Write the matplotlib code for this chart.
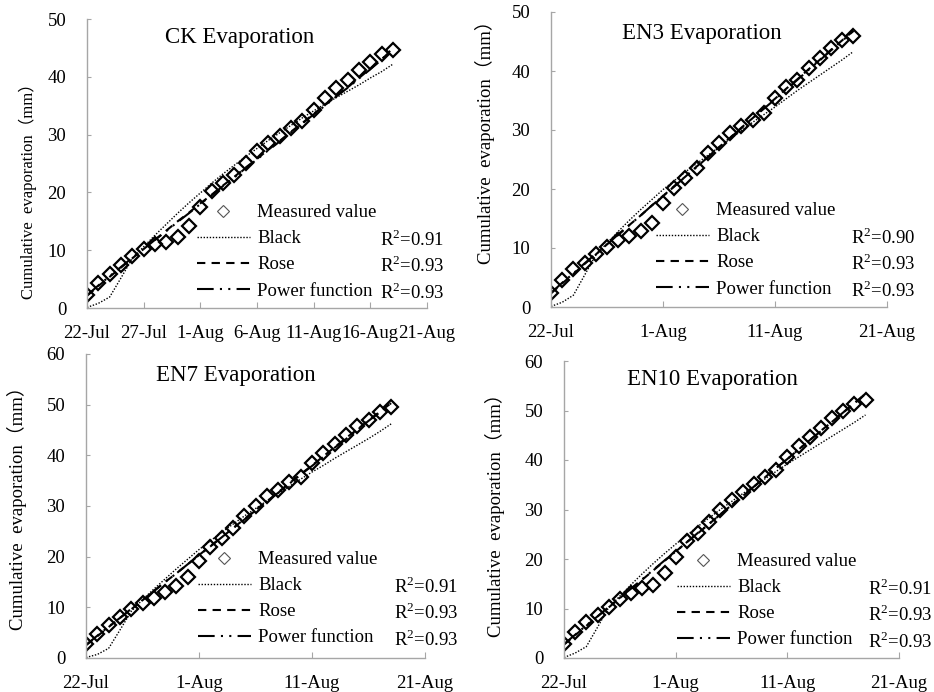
import numpy as np
import matplotlib
matplotlib.use("Agg")
import matplotlib.pyplot as plt
from matplotlib.lines import Line2D

plt.rcParams['font.family'] = ['Liberation Serif', 'Noto Sans CJK SC']
plt.rcParams['mathtext.fontset'] = 'custom'
plt.rcParams['mathtext.rm'] = 'Liberation Serif'

W, H = 934, 692

# days after 22-Jul
days = list(range(28))

ck_meas = [2.3, 4.3, 5.9, 7.4, 9.0, 10.2, 11.1, 11.5, 12.3, 14.2, 17.5, 20.2, 21.6, 23.0,
           25.1, 27.1, 28.5, 29.8, 31.2, 32.3, 34.3, 36.3, 38.0, 39.5, 41.1, 42.5, 43.9, 44.6]
ck_black = [0.1, 0.8, 1.9, 5.2, 8.6, 10.6, 12.6, 14.5, 16.4, 18.2, 19.9, 21.6, 23.2, 24.7,
            26.2, 27.6, 29.0, 30.3, 31.6, 32.9, 34.1, 35.3, 36.4, 37.5, 38.6, 39.8, 40.9, 42.2]
ck_rose = [2.1, 3.8, 5.4, 7.0, 8.6, 10.2, 11.8, 13.4, 15.0, 16.5, 18.1, 19.6, 21.2, 22.7,
           24.3, 25.8, 27.4, 28.9, 30.5, 32.0, 33.6, 35.1, 36.7, 38.2, 39.8, 41.4, 43.0, 44.9]
ck_power = [2.2, 3.9, 5.5, 7.1, 8.7, 10.2, 11.8, 13.3, 14.9, 16.4, 18.0, 19.5, 21.1, 22.6,
            24.2, 25.7, 27.3, 28.8, 30.4, 31.9, 33.5, 35.0, 36.6, 38.1, 39.7, 41.3, 43.0, 45.0]

en3_meas = [2.4, 4.6, 6.5, 7.5, 9.0, 10.2, 11.3, 12.1, 12.9, 14.3, 17.6, 20.1, 21.8, 23.5,
            26.1, 27.8, 29.5, 30.7, 31.7, 32.9, 35.4, 37.3, 38.5, 40.5, 42.2, 43.9, 45.2, 46.0]
en3_black = [0.1, 0.8, 2.0, 5.4, 8.8, 10.8, 12.8, 14.7, 16.5, 18.2, 19.9, 21.4, 22.9, 24.3,
             25.7, 27.1, 28.5, 29.9, 31.3, 32.6, 33.9, 35.3, 36.7, 38.0, 39.3, 40.6, 41.9, 43.3]
en3_rose = [2.3, 4.0, 5.6, 7.3, 8.9, 10.6, 12.2, 13.9, 15.5, 17.2, 18.8, 20.5, 22.1, 23.8,
            25.4, 27.1, 28.7, 30.4, 32.0, 33.7, 35.3, 37.0, 38.6, 40.3, 41.9, 43.6, 45.2, 46.8]
en3_power = [2.4, 4.1, 5.7, 7.4, 9.0, 10.6, 12.3, 13.9, 15.5, 17.2, 18.8, 20.4, 22.1, 23.7,
             25.4, 27.0, 28.7, 30.3, 32.0, 33.6, 35.2, 36.9, 38.5, 40.2, 41.8, 43.5, 45.1, 46.8]

en7_meas = [2.7, 4.8, 6.6, 8.1, 9.6, 10.9, 11.9, 13.0, 14.2, 15.9, 19.2, 21.9, 23.6, 25.6,
            28.1, 30.0, 32.0, 33.1, 34.8, 35.8, 38.5, 40.5, 42.2, 44.0, 45.8, 47.0, 48.6, 49.6]
en7_black = [0.1, 0.7, 1.9, 5.5, 9.2, 11.5, 13.6, 15.6, 17.6, 19.5, 21.4, 23.1, 24.8, 26.4,
             28.0, 29.5, 31.0, 32.5, 33.9, 35.3, 36.7, 38.0, 39.4, 40.7, 42.0, 43.3, 44.7, 46.2]
en7_rose = [2.5, 4.3, 6.1, 7.9, 9.6, 11.4, 13.2, 15.0, 16.7, 18.5, 20.3, 22.1, 23.8, 25.6,
            27.4, 29.2, 30.9, 32.7, 34.5, 36.3, 38.0, 39.8, 41.6, 43.4, 45.1, 46.9, 48.6, 50.3]
en7_power = [2.6, 4.4, 6.2, 7.9, 9.7, 11.4, 13.2, 15.0, 16.7, 18.5, 20.3, 22.0, 23.8, 25.6,
             27.3, 29.1, 30.9, 32.6, 34.4, 36.2, 37.9, 39.7, 41.5, 43.2, 45.0, 46.8, 48.5, 50.3]

en10_meas = [2.9, 5.2, 7.2, 8.7, 10.4, 11.9, 13.1, 14.1, 14.8, 17.1, 20.5, 23.7, 25.3, 27.4,
             29.9, 31.9, 33.6, 35.1, 36.5, 38.0, 40.7, 42.8, 44.7, 46.4, 48.4, 49.9, 51.4, 52.2]
en10_black = [0.1, 1.0, 2.3, 6.2, 10.2, 12.5, 14.8, 17.0, 19.1, 21.1, 23.0, 24.8, 26.6, 28.3,
              30.0, 31.6, 33.2, 34.7, 36.2, 37.7, 39.2, 40.6, 42.0, 43.4, 44.8, 46.2, 47.6, 49.1]
en10_rose = [2.7, 4.6, 6.5, 8.4, 10.2, 12.1, 14.0, 15.8, 17.7, 19.6, 21.5, 23.4, 25.2, 27.1,
             29.0, 30.9, 32.7, 34.6, 36.5, 38.4, 40.2, 42.1, 44.0, 45.9, 47.7, 49.6, 51.5, 53.4]
en10_power = [2.8, 4.7, 6.6, 8.4, 10.3, 12.2, 14.0, 15.9, 17.8, 19.7, 21.5, 23.4, 25.3, 27.1,
              29.0, 30.9, 32.7, 34.6, 36.5, 38.4, 40.2, 42.1, 44.0, 45.8, 47.7, 49.6, 51.4, 53.4]

titles = ["CK Evaporation", "EN3 Evaporation", "EN7 Evaporation", "EN10 Evaporation"]
r2_labels = [["R$^{2}$=0.91", "R$^{2}$=0.93", "R$^{2}$=0.93"],
             ["R$^{2}$=0.90", "R$^{2}$=0.93", "R$^{2}$=0.93"],
             ["R$^{2}$=0.91", "R$^{2}$=0.93", "R$^{2}$=0.93"],
             ["R$^{2}$=0.91", "R$^{2}$=0.93", "R$^{2}$=0.93"]]
tick_days_5 = [0, 5, 10, 15, 20, 25, 30]
tick_labels_5 = ["22-Jul", "27-Jul", "1-Aug", "6-Aug", "11-Aug", "16-Aug", "21-Aug"]
tick_days_10 = [0, 10, 20, 30]
tick_labels_10 = ["22-Jul", "1-Aug", "11-Aug", "21-Aug"]

# layout in pixels: axes (left, right, top, bottom), title centre, legend handle start / first row y,
# R2 right edge, ylabel centre (axes fraction)
panels = [
    dict(box=(87, 427, 19, 308), ymax=50, ystep=10, ticks=(tick_days_5, tick_labels_5),
         title=(240, 38), leg=(197, 213), r2x=444, ylab=(-0.174, 0.42), ylfs=12,
         data=(ck_meas, ck_black, ck_rose, ck_power)),
    dict(box=(551, 887, 12, 307), ymax=50, ystep=10, ticks=(tick_days_10, tick_labels_10),
         title=(702, 33), leg=(656, 211), r2x=915, ylab=(-0.196, 0.573), ylfs=13.5,
         data=(en3_meas, en3_black, en3_rose, en3_power)),
    dict(box=(86, 425, 354, 658), ymax=60, ystep=10, ticks=(tick_days_10, tick_labels_10),
         title=(236, 375), leg=(198, 560), r2x=458, ylab=(-0.204, 0.507), ylfs=13.5,
         data=(en7_meas, en7_black, en7_rose, en7_power)),
    dict(box=(564, 899, 361, 658), ymax=60, ystep=10, ticks=(tick_days_10, tick_labels_10),
         title=(712, 380), leg=(677, 562), r2x=932, ylab=(-0.206, 0.495), ylfs=13.5,
         data=(en10_meas, en10_black, en10_rose, en10_power)),
]

fig = plt.figure(figsize=(W / 100, H / 100), dpi=100)
grey = '#a6a6a6'

for i, p in enumerate(panels):
    l, r, t, b = p['box']
    ax = fig.add_axes([l / W, 1 - b / H, (r - l) / W, (b - t) / H])
    meas, black, rose, power = p['data']
    ax.plot(days, black, color='black', linestyle=(0, (1, 1.2)), linewidth=1.0)
    ax.plot(days, rose, color='black', linestyle=(0, (4, 3)), linewidth=1.5)
    ax.plot(days, power, color='black', linestyle=(0, (8, 3, 1, 3, 1, 3)), linewidth=1.5)
    ax.plot(days, meas, linestyle='none', marker='D', markersize=7, mfc='none',
            mec='black', mew=1.6)

    ax.set_xlim(0, 30)
    ax.set_ylim(0, p['ymax'])
    ax.set_yticks(np.arange(0, p['ymax'] + 1, p['ystep']))
    ax.set_xticks(p['ticks'][0])
    ax.set_xticklabels(p['ticks'][1])
    for s in ['top', 'right']:
        ax.spines[s].set_visible(False)
    for s in ['left', 'bottom']:
        ax.spines[s].set_color(grey)
        ax.spines[s].set_linewidth(1.0)
    ax.tick_params(axis='x', direction='in', length=4, color=grey, labelsize=13.5, pad=12)
    ax.tick_params(axis='y', direction='in', length=3, color=grey, labelsize=13.5, pad=15)
    ax.set_ylabel("Cumulative  evaporation（mm）", fontsize=p['ylfs'], va='center')
    ax.yaxis.set_label_coords(*p['ylab'])

    tx, ty = p['title']
    fig.text(tx / W, 1 - ty / H, titles[i], fontsize=16.5, ha='center', va='center')

    handles = [
        Line2D([], [], linestyle='none', marker='D', markersize=6, mfc='none', mec='#555555', mew=0.8),
        Line2D([], [], color='black', linestyle=(0, (1, 1.2)), linewidth=1.0),
        Line2D([], [], color='black', linestyle=(0, (4, 3)), linewidth=1.5),
        Line2D([], [], color='black', linestyle=(0, (8, 3, 1, 3, 1, 3)), linewidth=1.5),
    ]
    lx, ly = p['leg']
    fig.legend(handles, ["Measured value", "Black", "Rose", "Power function"],
               loc='upper left', bbox_to_anchor=(lx / W, 1 - (ly - 9) / H),
               frameon=False, fontsize=13.5, handlelength=2.8, handletextpad=0.4,
               labelspacing=0.48, borderpad=0, borderaxespad=0)
    for k, lab in enumerate(r2_labels[i]):
        fig.text(p['r2x'] / W, 1 - (ly + 26.5 * (k + 1)) / H, lab, fontsize=13.5,
                 ha='right', va='center')

fig.savefig("out.png", dpi=100)
